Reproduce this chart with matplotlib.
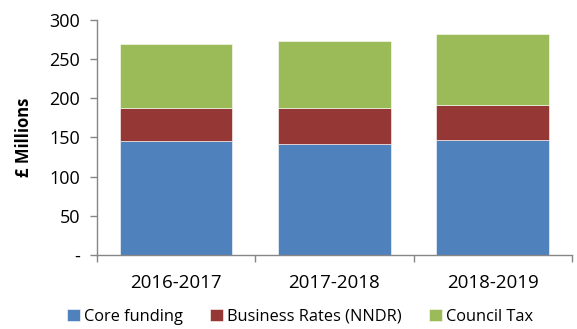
import matplotlib
matplotlib.use("Agg")
import matplotlib.pyplot as plt
from matplotlib.ticker import FixedLocator, FuncFormatter

plt.rcParams['font.family'] = ['Open Sans', 'DejaVu Sans']

years = ["2016-2017", "2017-2018", "2018-2019"]
core_funding = [145.5, 141.5, 146.2]
business_rates = [42.3, 46.3, 45.5]
council_tax = [81.2, 84.6, 90.5]

series_names = ["Core funding", "Business Rates (NNDR)", "Council Tax"]
colors = ["#4F81BD", "#953735", "#9BBB59"]

fig = plt.figure(figsize=(5.77, 3.29), dpi=100)
ax = fig.add_axes([0.168, 0.225, 0.823, 0.715])

x = list(range(len(years)))
bottom = [0.0] * len(years)
handles = []
for vals, name, col in zip([core_funding, business_rates, council_tax], series_names, colors):
    h = ax.bar(x, vals, width=0.71, bottom=bottom, color=col, label=name,
               edgecolor="white", linewidth=0.4)
    handles.append(h)
    bottom = [b + v for b, v in zip(bottom, vals)]

ax.set_xlim(-0.5, 2.5)
ax.set_ylim(0, 300)
ax.set_yticks(range(0, 301, 50))
ax.yaxis.set_major_formatter(FuncFormatter(lambda v, p: "-" if v == 0 else f"{int(v)}"))

# category boundaries as major ticks, labels on minor ticks at the bar centres
ax.xaxis.set_major_locator(FixedLocator([-0.5, 0.5, 1.5, 2.5]))
ax.xaxis.set_major_formatter(FuncFormatter(lambda v, p: ""))
ax.xaxis.set_minor_locator(FixedLocator(x))
ax.set_xticklabels(years, minor=True)
ax.tick_params(axis="x", which="minor", length=0, pad=14, labelsize=13.5)
ax.tick_params(axis="x", which="major", length=5, color="#868686", width=1)
ax.tick_params(axis="y", length=5, color="#868686", width=1, labelsize=13, pad=7)

for s in ["top", "right"]:
    ax.spines[s].set_visible(False)
for s in ["left", "bottom"]:
    ax.spines[s].set_color("#868686")
    ax.spines[s].set_linewidth(1)

ax.set_ylabel("£ Millions", fontsize=12, fontweight="bold", labelpad=12)

fig.legend(handles=handles, labels=series_names, loc="lower center",
           bbox_to_anchor=(0.52, -0.032), ncol=3, frameon=False, fontsize=11.8,
           handlelength=0.75, handleheight=0.75, handletextpad=0.25, columnspacing=1.7)

fig.savefig("out.png", dpi=100)
